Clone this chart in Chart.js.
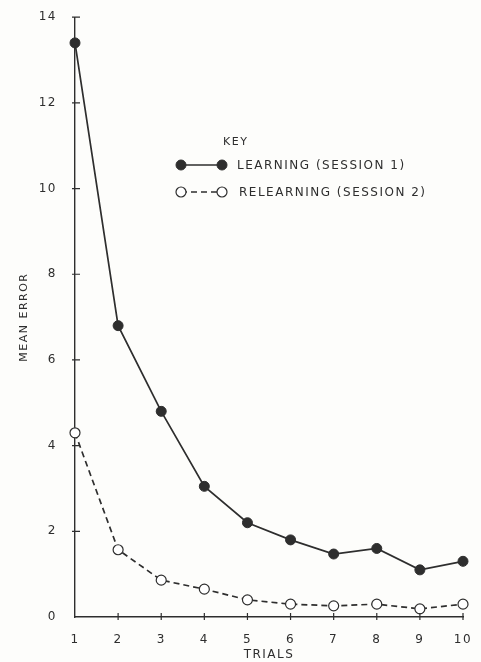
<!DOCTYPE html>
<html>
<head>
<meta charset="utf-8">
<script src="https://cdn.jsdelivr.net/npm/chart.js@4/dist/chart.umd.min.js"></script>
<style>
  html, body { margin: 0; padding: 0; background: #fdfdfb; }
  #wrap { width: 481px; height: 662px; }
</style>
</head>
<body>
<div id="wrap"><canvas id="c" width="481" height="662"></canvas></div>
<script>
const trials = ['1', '2', '3', '4', '5', '6', '7', '8', '9', '10'];
const learning = [13.4, 6.8, 4.8, 3.05, 2.2, 1.8, 1.47, 1.6, 1.1, 1.3];
const relearning = [4.3, 1.57, 0.86, 0.65, 0.4, 0.3, 0.26, 0.3, 0.19, 0.3];
const yTicks = [0, 2, 4, 6, 8, 10, 12, 14];
const legendTitle = 'KEY';
const learningLabel = 'LEARNING (SESSION 1)';
const relearningLabel = 'RELEARNING (SESSION 2)';

const INK = '#2e2e2e';
const FONT = '"DejaVu Sans", sans-serif';
const SPACING = '1.5px';

const spacing = {
  id: 'spacing',
  beforeLayout(chart) { chart.ctx.letterSpacing = SPACING; },
  beforeDraw(chart) { chart.ctx.letterSpacing = SPACING; }
};

const crossTicks = {
  id: 'crossTicks',
  afterDraw(chart) {
    const ctx = chart.ctx, x = chart.scales.x, y = chart.scales.y;
    const a = chart.chartArea;
    ctx.save();
    ctx.strokeStyle = INK;
    ctx.lineWidth = 1.2;
    ctx.beginPath();
    yTicks.forEach(v => {
      if (v === 0) return;
      const py = y.getPixelForValue(v);
      ctx.moveTo(a.left - 3, py); ctx.lineTo(a.left + 5, py);
    });
    trials.forEach((t, i) => {
      if (i === 0) return;
      const px = x.getPixelForValue(i);
      ctx.moveTo(px, a.bottom - 4); ctx.lineTo(px, a.bottom + 3);
    });
    ctx.stroke();
    ctx.restore();
  }
};

const keyLegend = {
  id: 'keyLegend',
  afterDraw(chart) {
    const ctx = chart.ctx;
    ctx.save();
    ctx.letterSpacing = SPACING;
    ctx.fillStyle = INK;
    ctx.font = '11px ' + FONT;
    ctx.textBaseline = 'middle';
    ctx.fillText(legendTitle, 223, 142);
    const rows = [
      { ds: chart.data.datasets[0], y: 165, text: learningLabel, tx: 237 },
      { ds: chart.data.datasets[1], y: 192, text: relearningLabel, tx: 239 }
    ];
    rows.forEach(r => {
      ctx.strokeStyle = INK;
      ctx.lineWidth = 1.5;
      ctx.setLineDash(r.ds.borderDash || []);
      ctx.beginPath();
      ctx.moveTo(181, r.y); ctx.lineTo(222, r.y);
      ctx.stroke();
      ctx.setLineDash([]);
      [181, 222].forEach(px => {
        ctx.beginPath();
        ctx.arc(px, r.y, r.ds.pointRadius, 0, Math.PI * 2);
        ctx.fillStyle = r.ds.pointBackgroundColor;
        ctx.fill();
        ctx.lineWidth = r.ds.pointBorderWidth;
        ctx.strokeStyle = INK;
        ctx.stroke();
      });
      ctx.fillStyle = INK;
      ctx.font = '12px ' + FONT;
      ctx.fillText(r.text, r.tx, r.y + 1);
    });
    ctx.restore();
  }
};

new Chart(document.getElementById('c'), {
  type: 'line',
  data: {
    labels: trials,
    datasets: [
      {
        label: learningLabel,
        data: learning,
        borderColor: INK,
        borderWidth: 1.7,
        pointRadius: 5,
        pointBackgroundColor: INK,
        pointBorderColor: INK,
        pointBorderWidth: 1,
        tension: 0
      },
      {
        label: relearningLabel,
        data: relearning,
        borderColor: INK,
        borderWidth: 1.7,
        borderDash: [6, 4],
        pointRadius: 5,
        pointBackgroundColor: '#ffffff',
        pointBorderColor: INK,
        pointBorderWidth: 1.2,
        tension: 0
      }
    ]
  },
  options: {
    responsive: false,
    animation: false,
    events: [],
    layout: { padding: { top: 11, right: 18, left: 0, bottom: 0 } },
    plugins: { legend: { display: false }, tooltip: { enabled: false } },
    scales: {
      x: {
        type: 'category',
        offset: false,
        grid: { display: false },
        border: { display: true, color: INK, width: 1.4 },
        ticks: { color: INK, padding: 8, font: { family: FONT, size: 12 }, maxRotation: 0, autoSkip: false },
        title: { display: true, text: 'TRIALS', color: INK, font: { family: FONT, size: 12 }, padding: { top: 6, bottom: 0 } },
        afterFit(s) { s.height = 45; }
      },
      y: {
        min: 0, max: 14,
        afterBuildTicks(s) { s.ticks = yTicks.map(v => ({ value: v })); },
        grid: { display: false },
        border: { display: true, color: INK, width: 1.4 },
        ticks: { color: INK, padding: 10, font: { family: FONT, size: 12 } },
        title: { display: true, text: 'MEAN ERROR', color: INK, font: { family: FONT, size: 11 }, padding: { top: 18, bottom: 0 } },
        afterFit(s) { s.width = 75; }
      }
    }
  },
  plugins: [spacing, crossTicks, keyLegend]
});
</script>
</body>
</html>
